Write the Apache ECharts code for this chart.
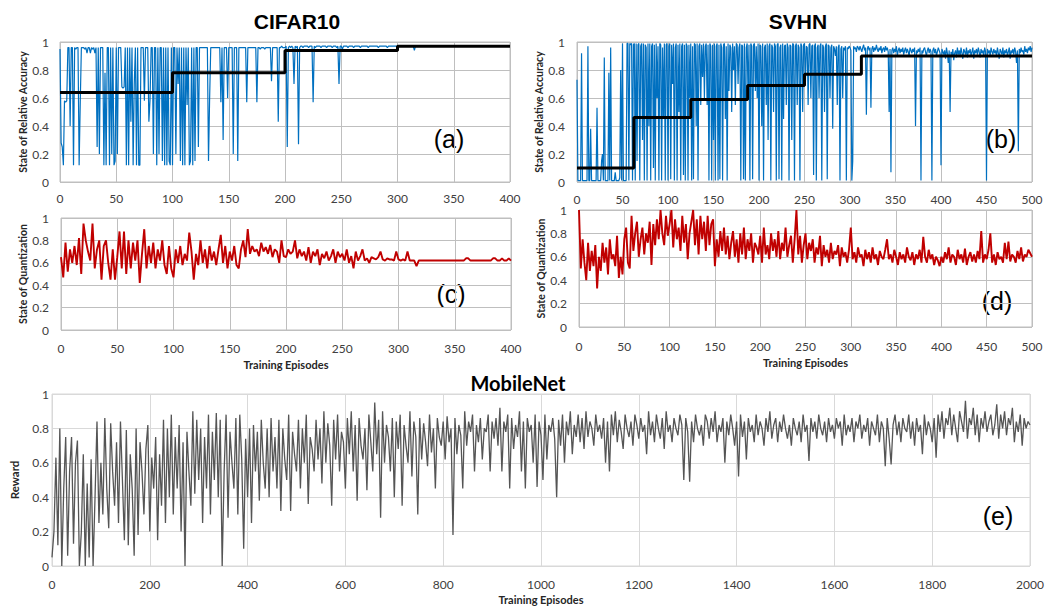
<!DOCTYPE html>
<html>
<head>
<meta charset="utf-8">
<script src="https://cdn.jsdelivr.net/npm/echarts@6/dist/echarts.min.js"></script>
<style>
html,body{margin:0;padding:0;background:#fff;}
#chart{width:1047px;height:606px;}
</style>
</head>
<body>
<div id="chart"></div>
<script>
// ---------- DATA ----------
// (a) CIFAR10 state of relative accuracy, one value per episode (0..400)
const cifarAccStep = 1;
const cifarAcc = [
0.95,0.28,0.25,0.12,0.58,0.57,0.58,0.96,0.96,0.40,0.96,0.96,0.12,0.96,0.95,0.96,0.96,0.12,0.57,0.96,
0.96,0.96,0.95,0.96,0.92,0.96,0.96,0.92,0.96,0.95,0.96,0.92,0.96,0.25,0.96,0.20,0.96,0.96,0.96,0.12,
0.78,0.12,0.96,0.96,0.12,0.96,0.20,0.96,0.12,0.15,0.96,0.20,0.96,0.96,0.96,0.68,0.67,0.68,0.96,0.12,
0.96,0.12,0.96,0.43,0.96,0.12,0.70,0.96,0.12,0.96,0.12,0.12,0.96,0.96,0.96,0.58,0.96,0.96,0.96,0.43,
0.58,0.96,0.96,0.20,0.96,0.96,0.12,0.96,0.20,0.96,0.96,0.15,0.96,0.12,0.96,0.12,0.96,0.15,0.12,0.96,
0.12,0.96,0.96,0.20,0.96,0.70,0.96,0.15,0.96,0.12,0.96,0.12,0.96,0.55,0.96,0.12,0.15,0.96,0.12,0.96,
0.15,0.96,0.96,0.25,0.96,0.96,0.96,0.96,0.96,0.96,0.96,0.96,0.15,0.60,0.96,0.96,0.96,0.96,0.96,0.96,
0.96,0.96,0.96,0.57,0.96,0.30,0.96,0.96,0.96,0.60,0.96,0.96,0.96,0.96,0.20,0.96,0.96,0.96,0.15,0.96,
0.96,0.96,0.96,0.96,0.96,0.96,0.57,0.96,0.96,0.96,0.96,0.96,0.96,0.96,0.96,0.57,0.96,0.96,0.95,0.96,
0.96,0.96,0.95,0.96,0.96,0.96,0.96,0.96,0.72,0.96,0.96,0.96,0.96,0.96,0.43,0.96,0.96,0.97,0.96,0.96,
0.96,0.97,0.25,0.96,0.97,0.96,0.97,0.96,0.70,0.97,0.96,0.97,0.27,0.96,0.97,0.97,0.96,0.97,0.97,0.97,
0.97,0.96,0.97,0.97,0.97,0.57,0.97,0.96,0.97,0.97,0.97,0.97,0.96,0.97,0.97,0.97,0.97,0.96,0.97,0.97,
0.97,0.97,0.96,0.97,0.97,0.97,0.96,0.97,0.70,0.97,0.97,0.95,0.97,0.97,0.97,0.97,0.96,0.97,0.97,0.97,
0.97,0.96,0.97,0.97,0.97,0.97,0.97,0.96,0.97,0.97,0.97,0.97,0.97,0.97,0.96,0.97,0.97,0.97,0.97,0.97,
0.97,0.97,0.97,0.96,0.97,0.97,0.97,0.97,0.97,0.97,0.97,0.96,0.97,0.97,0.97,0.97,0.97,0.97,0.97,0.97,
0.97,0.97,0.97,0.97,0.97,0.97,0.97,0.97,0.97,0.97,0.97,0.97,0.97,0.97,0.97,0.94,0.97,0.97,0.97,0.97,
0.97,0.97,0.97,0.97,0.97,0.97,0.97,0.97,0.97,0.97,0.97,0.97,0.97,0.97,0.97,0.97,0.97,0.97,0.97,0.97,
0.97,0.97,0.97,0.97,0.97,0.97,0.97,0.97,0.97,0.97,0.97,0.97,0.97,0.97,0.97,0.97,0.97,0.97,0.97,0.97,
0.97,0.97,0.97,0.97,0.97,0.97,0.97,0.97,0.97,0.97,0.97,0.97,0.97,0.97,0.97,0.97,0.97,0.97,0.97,0.97,
0.97,0.97,0.97,0.97,0.97,0.97,0.97,0.97,0.97,0.97,0.97,0.97,0.97,0.97,0.97,0.97,0.97,0.97,0.97,0.97,
0.97];
const cifarStepX = [0,100,200,300,400];
const cifarStepY = [0.64,0.78,0.94,0.97,0.97];

// (b) SVHN state of relative accuracy, one value per episode (0..500)
const svhnAccStep = 1;
const svhnAcc = [
0.73,0.01,0.01,0.01,0.01,0.92,0.01,0.01,0.01,0.01,0.01,0.01,0.97,0.01,0.01,0.38,0.01,0.01,0.01,0.01,
0.01,0.01,0.53,0.01,0.01,0.01,0.01,0.15,0.20,0.01,0.89,0.01,0.01,0.01,0.01,0.78,0.01,0.96,0.01,0.01,
0.01,0.01,0.07,0.01,0.01,0.01,0.01,0.03,0.80,0.01,0.99,0.01,0.01,0.01,0.01,0.99,0.99,0.01,0.99,0.98,
0.99,0.01,0.98,0.99,0.01,0.99,0.15,0.98,0.99,0.01,0.97,0.99,0.30,0.99,0.01,0.98,0.96,0.01,0.99,0.40,
0.99,0.01,0.97,0.99,0.10,0.98,0.01,0.99,0.60,0.97,0.01,0.99,0.98,0.01,0.96,0.45,0.99,0.01,0.98,0.99,
0.01,0.97,0.99,0.02,0.98,0.70,0.99,0.01,0.96,0.99,0.01,0.98,0.50,0.99,0.01,0.97,0.99,0.05,0.98,0.01,
0.99,0.97,0.01,0.98,0.60,0.99,0.01,0.97,0.02,0.99,0.98,0.40,0.99,0.01,0.97,0.99,0.55,0.98,0.75,0.99,
0.60,0.97,0.99,0.55,0.98,0.01,0.99,0.97,0.01,0.98,0.30,0.99,0.01,0.97,0.99,0.01,0.98,0.02,0.99,0.96,
0.01,0.98,0.99,0.45,0.97,0.01,0.99,0.65,0.98,0.96,0.50,0.99,0.80,0.97,0.55,0.99,0.98,0.70,0.96,0.99,
0.01,0.98,0.97,0.02,0.99,0.01,0.96,0.99,0.60,0.98,0.01,0.99,0.97,0.02,0.98,0.99,0.65,0.97,0.60,0.99,
0.01,0.98,0.97,0.40,0.99,0.01,0.96,0.98,0.55,0.99,0.30,0.97,0.99,0.01,0.98,0.96,0.50,0.99,0.97,0.01,
0.98,0.99,0.02,0.96,0.98,0.01,0.99,0.45,0.97,0.98,0.55,0.99,0.96,0.01,0.98,0.97,0.30,0.99,0.98,0.01,
0.97,0.99,0.55,0.98,0.96,0.01,0.99,0.97,0.50,0.98,0.99,0.70,0.97,0.96,0.55,0.98,0.99,0.60,0.97,0.98,
0.05,0.97,0.99,0.01,0.96,0.98,0.60,0.97,0.99,0.01,0.98,0.96,0.50,0.97,0.99,0.02,0.98,0.97,0.60,0.96,
0.98,0.38,0.97,0.95,0.90,0.97,0.55,0.96,0.98,0.01,0.95,0.97,0.60,0.96,0.94,0.97,0.01,0.96,0.95,0.97,
0.96,0.94,0.01,0.15,0.97,0.95,0.96,0.93,0.97,0.96,0.94,0.97,0.95,0.93,0.96,0.98,0.94,0.96,0.48,0.95,
0.97,0.94,0.96,0.53,0.95,0.97,0.93,0.96,0.94,0.98,0.95,0.93,0.96,0.94,0.97,0.92,0.95,0.96,0.93,0.97,
0.94,0.96,0.93,0.50,0.95,0.07,0.94,0.96,0.92,0.95,0.93,0.97,0.90,0.94,0.96,0.92,0.95,0.93,0.96,0.91,
0.94,0.96,0.92,0.95,0.93,0.90,0.96,0.94,0.92,0.95,0.93,0.96,0.40,0.94,0.92,0.95,0.93,0.96,0.01,0.94,
0.92,0.95,0.96,0.93,0.90,0.94,0.96,0.92,0.95,0.93,0.01,0.94,0.96,0.92,0.95,0.90,0.93,0.96,0.94,0.92,
0.12,0.95,0.93,0.91,0.94,0.88,0.96,0.92,0.85,0.94,0.50,0.93,0.90,0.95,0.87,0.92,0.94,0.89,0.96,0.91,
0.94,0.90,0.96,0.92,0.88,0.95,0.93,0.91,0.96,0.89,0.94,0.92,0.95,0.90,0.93,0.96,0.88,0.94,0.92,0.95,
0.91,0.96,0.93,0.89,0.95,0.92,0.94,0.90,0.96,0.93,0.01,0.95,0.92,0.94,0.90,0.96,0.93,0.91,0.95,0.92,
0.94,0.90,0.96,0.92,0.88,0.95,0.93,0.91,0.96,0.89,0.94,0.92,0.95,0.90,0.93,0.96,0.88,0.94,0.92,0.95,
0.91,0.96,0.93,0.85,0.94,0.22,0.95,0.92,0.96,0.93,0.94,0.91,0.97,0.93,0.95,0.92,0.96,0.94,0.97,0.93,
0.96];
const svhnStepX = [0,62.5,125,187.5,250,312.5,500];
const svhnStepY = [0.10,0.46,0.59,0.69,0.77,0.90,0.90];

// (c) CIFAR10 state of quantization, one value every 2 episodes (0..400)
const cifarQStep = 2;
const cifarQ = [
0.65,0.47,0.78,0.52,0.72,0.60,0.75,0.58,0.82,0.50,
0.95,0.80,0.70,0.62,0.95,0.55,0.72,0.80,0.45,0.75,
0.80,0.60,0.45,0.72,0.45,0.65,0.88,0.55,0.88,0.50,
0.80,0.55,0.78,0.62,0.80,0.42,0.68,0.90,0.55,0.75,
0.60,0.78,0.55,0.72,0.62,0.80,0.58,0.50,0.75,0.55,
0.47,0.72,0.60,0.75,0.58,0.68,0.62,0.87,0.70,0.45,
0.68,0.58,0.80,0.60,0.72,0.55,0.75,0.62,0.70,0.58,
0.72,0.85,0.60,0.75,0.55,0.70,0.62,0.75,0.58,0.55,
0.72,0.80,0.65,0.90,0.68,0.75,0.70,0.72,0.66,0.78,
0.70,0.74,0.68,0.76,0.65,0.72,0.70,0.60,0.80,0.66,
0.65,0.72,0.68,0.70,0.80,0.64,0.72,0.66,0.70,0.62,
0.74,0.60,0.70,0.66,0.72,0.58,0.68,0.64,0.70,0.62,
0.66,0.72,0.60,0.70,0.65,0.68,0.62,0.72,0.60,0.66,
0.55,0.70,0.62,0.66,0.72,0.62,0.64,0.60,0.65,0.64,
0.63,0.65,0.70,0.63,0.62,0.64,0.63,0.63,0.62,0.70,
0.63,0.62,0.63,0.62,0.70,0.62,0.62,0.62,0.57,0.62,
0.62,0.62,0.62,0.62,0.62,0.62,0.62,0.62,0.62,0.62,
0.62,0.62,0.62,0.62,0.62,0.62,0.62,0.62,0.62,0.62,
0.64,0.64,0.62,0.62,0.62,0.62,0.62,0.62,0.62,0.62,
0.62,0.62,0.64,0.64,0.62,0.62,0.64,0.62,0.62,0.64,
0.62];

// (d) SVHN state of quantization, one value every 2 episodes (0..500)
const svhnQStep = 2;
const svhnQ = [
1.00,0.50,0.75,0.55,0.40,0.72,0.48,0.65,0.52,0.70,
0.33,0.60,0.48,0.72,0.55,0.68,0.45,0.75,0.58,0.62,
0.52,0.78,0.42,0.60,0.45,0.75,0.85,0.55,0.50,0.95,
0.65,0.80,0.90,0.60,0.75,0.85,0.62,0.80,0.72,0.90,
0.53,0.88,0.70,0.92,0.75,1.00,0.80,0.70,0.95,0.78,
0.88,1.00,0.68,0.92,0.75,0.85,0.65,0.95,0.72,0.88,
0.58,0.80,0.90,1.00,0.70,0.92,0.62,0.95,0.75,0.90,
0.65,0.95,0.70,0.88,0.92,0.52,0.75,0.60,0.82,0.65,
0.85,0.62,0.78,0.58,0.72,0.82,0.60,0.75,0.55,0.80,
0.62,0.85,0.58,0.75,0.65,0.80,0.55,0.72,0.68,0.62,
0.78,0.55,0.85,0.62,0.70,0.58,0.80,0.65,0.75,0.60,
0.82,0.58,0.72,0.65,0.85,0.60,0.70,0.78,0.55,0.75,
1.00,0.62,0.78,0.55,0.70,0.80,0.58,0.72,0.65,0.75,
0.55,0.68,0.62,0.78,0.52,0.70,0.60,0.66,0.55,0.72,
0.58,0.65,0.62,0.70,0.52,0.68,0.60,0.64,0.55,0.66,
0.85,0.58,0.64,0.55,0.68,0.60,0.62,0.52,0.66,0.58,
0.64,0.55,0.68,0.58,0.62,0.53,0.65,0.60,0.58,0.66,
0.75,0.58,0.62,0.55,0.66,0.60,0.53,0.64,0.58,0.62,
0.55,0.68,0.60,0.57,0.64,0.53,0.62,0.58,0.66,0.55,
0.77,0.60,0.55,0.66,0.58,0.62,0.53,0.60,0.57,0.52,
0.60,0.55,0.64,0.58,0.68,0.55,0.62,0.60,0.53,0.66,
0.58,0.62,0.55,0.67,0.53,0.60,0.64,0.56,0.62,0.55,
0.65,0.58,0.82,0.55,0.62,0.58,0.66,0.80,0.55,0.62,
0.53,0.64,0.58,0.60,0.55,0.72,0.58,0.73,0.56,0.62,
0.60,0.55,0.65,0.58,0.68,0.56,0.62,0.60,0.66,0.63,
0.60];

// (e) MobileNet reward, one value every 4 episodes (0..2000)
const mobileStep = 4;
const mobileReward = [
0.05,0.20,0.63,0.12,0.80,0.00,0.45,0.75,0.06,0.55,0.75,0.13,0.60,0.73,0.00,0.20,0.65,0.00,0.48,0.05,
0.62,0.00,0.40,0.84,0.25,0.60,0.30,0.86,0.45,0.22,0.83,0.55,0.35,0.72,0.25,0.84,0.50,0.15,0.79,0.12,
0.65,0.45,0.06,0.80,0.18,0.72,0.55,0.30,0.68,0.82,0.20,0.63,0.45,0.75,0.15,0.65,0.35,0.85,0.25,0.80,
0.40,0.88,0.30,0.75,0.45,0.82,0.20,0.72,0.00,0.78,0.55,0.35,0.90,0.42,0.85,0.50,0.80,0.25,0.75,0.45,
0.88,0.30,0.78,0.50,0.89,0.40,0.85,0.00,0.55,0.88,0.28,0.78,0.60,0.45,0.86,0.30,0.88,0.62,0.10,0.74,
0.40,0.80,0.25,0.82,0.55,0.78,0.38,0.85,0.60,0.45,0.80,0.40,0.86,0.55,0.75,0.45,0.85,0.32,0.80,0.62,
0.50,0.88,0.32,0.78,0.65,0.55,0.85,0.45,0.80,0.60,0.88,0.36,0.75,0.68,0.55,0.85,0.62,0.80,0.48,0.90,
0.60,0.83,0.70,0.35,0.85,0.62,0.88,0.55,0.78,0.72,0.45,0.86,0.65,0.90,0.55,0.82,0.38,0.86,0.70,0.62,
0.80,0.44,0.88,0.72,0.55,0.95,0.65,0.85,0.28,0.90,0.60,0.82,0.75,0.55,0.86,0.40,0.84,0.68,0.88,0.35,
0.82,0.70,0.60,0.90,0.52,0.84,0.75,0.30,0.86,0.62,0.83,0.72,0.58,0.88,0.66,0.80,0.45,0.86,0.75,0.70,
0.84,0.62,0.87,0.72,0.80,0.18,0.86,0.65,0.82,0.76,0.45,0.90,0.70,0.84,0.78,0.88,0.55,0.82,0.72,0.86,
0.62,0.80,0.78,0.88,0.55,0.84,0.74,0.86,0.70,0.92,0.55,0.84,0.78,0.88,0.45,0.86,0.68,0.82,0.75,0.90,
0.55,0.84,0.45,0.86,0.78,0.82,0.60,0.88,0.46,0.84,0.76,0.50,0.88,0.62,0.82,0.78,0.86,0.74,0.40,0.85,
0.70,0.88,0.60,0.84,0.76,0.90,0.65,0.82,0.75,0.88,0.72,0.86,0.68,0.90,0.75,0.84,0.80,0.70,0.88,0.78,
0.82,0.74,0.86,0.60,0.84,0.55,0.88,0.76,0.90,0.72,0.85,0.78,0.68,0.88,0.80,0.75,0.84,0.70,0.88,0.82,
0.74,0.86,0.78,0.82,0.65,0.90,0.76,0.84,0.72,0.88,0.80,0.74,0.86,0.68,0.90,0.78,0.82,0.72,0.86,0.80,
0.76,0.88,0.82,0.50,0.86,0.78,0.49,0.84,0.72,0.88,0.80,0.76,0.82,0.70,0.88,0.84,0.74,0.86,0.78,0.90,
0.72,0.82,0.78,0.86,0.60,0.84,0.76,0.88,0.80,0.70,0.84,0.52,0.88,0.75,0.84,0.62,0.86,0.78,0.82,0.72,
0.88,0.76,0.84,0.80,0.70,0.86,0.78,0.90,0.74,0.82,0.86,0.72,0.84,0.78,0.88,0.80,0.74,0.82,0.70,0.86,
0.80,0.76,0.84,0.72,0.88,0.78,0.82,0.61,0.86,0.78,0.84,0.74,0.88,0.80,0.76,0.84,0.72,0.86,0.78,0.82,
0.74,0.86,0.80,0.84,0.70,0.88,0.76,0.82,0.78,0.86,0.72,0.84,0.80,0.88,0.74,0.82,0.78,0.86,0.70,0.84,
0.80,0.76,0.88,0.72,0.84,0.80,0.58,0.86,0.74,0.59,0.82,0.88,0.76,0.84,0.72,0.86,0.80,0.78,0.88,0.74,
0.84,0.70,0.86,0.78,0.82,0.65,0.88,0.76,0.84,0.80,0.72,0.86,0.63,0.88,0.78,0.90,0.74,0.86,0.82,0.92,
0.76,0.88,0.80,0.72,0.90,0.84,0.78,0.96,0.74,0.86,0.82,0.92,0.76,0.88,0.72,0.86,0.80,0.90,0.78,0.84,
0.88,0.76,0.82,0.94,0.74,0.88,0.80,0.90,0.76,0.86,0.82,0.92,0.72,0.84,0.78,0.88,0.70,0.86,0.80,0.84,
0.82];

// ---------- TEXT ----------
const panelTitles = ['CIFAR10', 'SVHN', 'MobileNet'];
const panelTags = ['(a)', '(b)', '(c)', '(d)', '(e)'];
const yNames = ['State of Relative Accuracy', 'State of Relative Accuracy', 'State of Quantization', 'State of Quantization', 'Reward'];
const xName = 'Training Episodes';

// ---------- BUILD ----------
function toPairs(ys, step) { return ys.map((y, i) => [i * step, y]); }
function zipXY(xs, ys) { return xs.map((x, i) => [x, ys[i]]); }

const tickFont = 'Lato';
const labelColor = '#404040';

const grids = [
  {left: 60, top: 42, width: 450, height: 140},
  {left: 577, top: 42, width: 455, height: 140},
  {left: 61, top: 218, width: 450, height: 112},
  {left: 579, top: 210, width: 453, height: 117},
  {left: 50, top: 394, width: 980, height: 173}
];
const gridColors = ['#bfbfbf', '#bfbfbf', '#bfbfbf', '#bfbfbf', '#d9d9d9'];
const xMax = [400, 500, 400, 500, 2000];
const xInt = [50, 50, 50, 50, 200];
const xLabelMargin = [10, 11, 12, 13, 12];
const yLabelMargin = [11, 12, 12, 12, 3];
const yNameGap = [32, 32, 32, 33, 32];
const xNameGap = [0, 0, 29, 30, 28];

const xAxes = grids.map((g, i) => ({
  gridIndex: i, type: 'value', min: 0, max: xMax[i], interval: xInt[i],
  axisLine: {show: false}, axisTick: {show: false},
  splitLine: {show: true, lineStyle: {color: gridColors[i], width: 1}},
  axisLabel: {margin: xLabelMargin[i], fontFamily: tickFont, fontSize: 12, color: labelColor,
    formatter: function (v) { return String(v); }},
  name: i >= 2 ? xName : '',
  nameLocation: 'middle', nameGap: xNameGap[i],
  nameTextStyle: {fontFamily: tickFont, fontWeight: 'bold', fontSize: 11, color: '#262626'}
}));
const yAxes = grids.map((g, i) => ({
  gridIndex: i, type: 'value', min: 0, max: 1, interval: 0.2,
  axisLine: {show: false}, axisTick: {show: false},
  splitLine: {show: true, lineStyle: {color: gridColors[i], width: 1}},
  axisLabel: {margin: yLabelMargin[i], fontFamily: tickFont, fontSize: 12, color: labelColor},
  name: yNames[i], nameLocation: 'middle', nameGap: yNameGap[i], nameRotate: 90,
  nameTextStyle: {fontFamily: tickFont, fontWeight: 'bold', fontSize: i === 4 ? 11.5 : 10.5, color: '#262626'}
}));

function lineSeries(idx, data, color, width, extra) {
  return Object.assign({
    type: 'line', xAxisIndex: idx, yAxisIndex: idx, data: data,
    showSymbol: false, symbol: 'none', silent: true, animation: false,
    lineStyle: {color: color, width: width}
  }, extra || {});
}

const series = [
  lineSeries(0, toPairs(cifarAcc, cifarAccStep), '#0070C0', 1.2),
  lineSeries(0, zipXY(cifarStepX, cifarStepY), '#000000', 3, {step: 'end'}),
  lineSeries(1, toPairs(svhnAcc, svhnAccStep), '#0070C0', 1.2),
  lineSeries(1, zipXY(svhnStepX, svhnStepY), '#000000', 3, {step: 'end'}),
  lineSeries(2, toPairs(cifarQ, cifarQStep), '#C00000', 1.9),
  lineSeries(3, toPairs(svhnQ, svhnQStep), '#C00000', 1.9),
  lineSeries(4, toPairs(mobileReward, mobileStep), '#555555', 1.3)
];

function txt(x, y, s, font) {
  return {type: 'text', x: x, y: y, silent: true,
    style: {text: s, font: font, fill: '#000', align: 'center', verticalAlign: 'middle'}};
}
const titleFont = 'bold 21px "Liberation Sans", Arial, sans-serif';
const tagFont = '25px "Liberation Sans", Arial, sans-serif';
const graphics = [
  txt(297, 21, panelTitles[0], titleFont),
  txt(798, 21, panelTitles[1], titleFont),
  txt(518, 383, panelTitles[2], 'bold 20px Lato, sans-serif'),
  txt(449, 139, panelTags[0], tagFont),
  txt(1001, 139, panelTags[1], tagFont),
  txt(451, 294, panelTags[2], tagFont),
  txt(997, 301, panelTags[3], tagFont),
  txt(998, 516, panelTags[4], tagFont)
];

const chart = echarts.init(document.getElementById('chart'), null, {renderer: 'svg', width: 1047, height: 606});
chart.setOption({
  animation: false,
  backgroundColor: '#ffffff',
  grid: grids.map((g, i) => Object.assign({show: true, borderColor: gridColors[i], borderWidth: 1, backgroundColor: 'transparent'}, g)),
  xAxis: xAxes,
  yAxis: yAxes,
  series: series,
  graphic: graphics
});
</script>
</body>
</html>
